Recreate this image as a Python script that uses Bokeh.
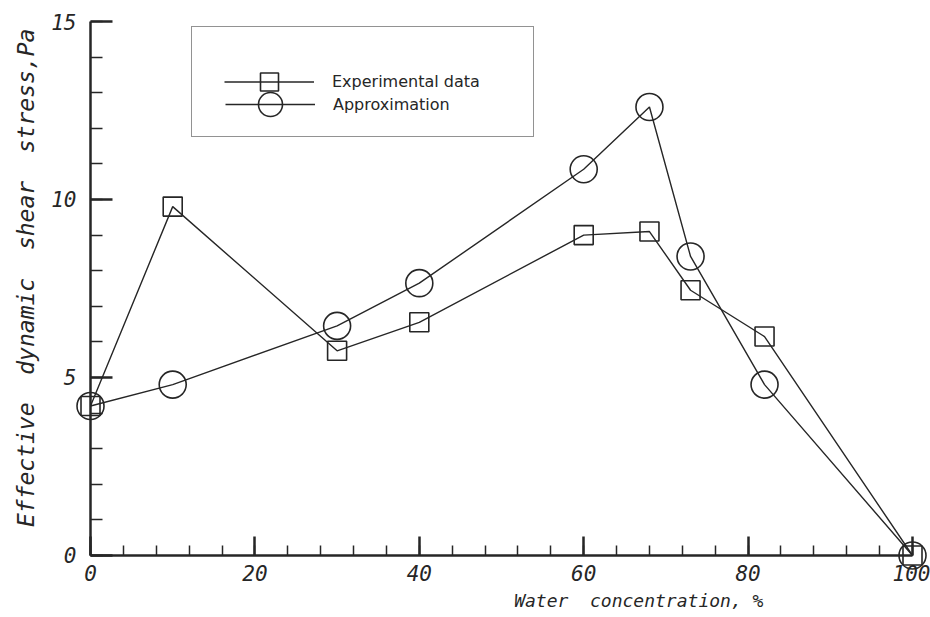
import math

from bokeh.embed import file_html
from bokeh.models import Label, Legend, LegendItem, LinearAxis, Range1d, SingleIntervalTicker
from bokeh.plotting import figure
from bokeh.resources import INLINE

# Water concentration, %
water = [0, 10, 30, 40, 60, 68, 73, 82, 100]
# Effective dynamic shear stress, Pa
experimental = [4.2, 9.8, 5.75, 6.55, 9.0, 9.1, 7.45, 6.15, 0.0]
approximation = [4.2, 4.8, 6.45, 7.65, 10.85, 12.6, 8.4, 4.8, 0.0]

x_ticks_major = 20
y_ticks_major = 5

INK = "#262626"
MONO = "DejaVu Sans Mono"
GAP = "\u00a0 "  # wide word gap, kept by the SVG text

# the frame covers the whole canvas; the axes are pinned to the origin inside it
p = figure(
    width=930, height=617,
    output_backend="svg", toolbar_location=None,
    x_range=Range1d(-10.95, 102.19), y_range=Range1d(-1.742, 15.59),
    x_axis_type=None, y_axis_type=None,
    min_border=0,
)
p.outline_line_color = None
p.background_fill_color = "white"
p.border_fill_color = "white"

xaxis = LinearAxis(
    ticker=SingleIntervalTicker(interval=x_ticks_major, num_minor_ticks=5),
    fixed_location=0, bounds=(0, 100),
)
yaxis = LinearAxis(
    ticker=SingleIntervalTicker(interval=y_ticks_major, num_minor_ticks=5),
    fixed_location=0, bounds=(0, 15),
)
for ax, maj, mnr, standoff in ((xaxis, 19, 10, 10), (yaxis, 22, 12, 14)):
    ax.axis_line_color = INK
    ax.axis_line_width = 2.5
    ax.major_tick_in = maj
    ax.major_tick_out = 0
    ax.minor_tick_in = mnr
    ax.minor_tick_out = 0
    ax.major_tick_line_color = INK
    ax.major_tick_line_width = 2.5
    ax.minor_tick_line_color = INK
    ax.minor_tick_line_width = 1.5
    ax.major_label_text_font = MONO
    ax.major_label_text_font_style = "italic"
    ax.major_label_text_font_size = "21px"
    ax.major_label_text_color = INK
    ax.major_label_standoff = standoff
p.add_layout(xaxis, "below")
p.add_layout(yaxis, "left")

# series
l_exp = p.line(water, experimental, line_color=INK, line_width=1.4)
m_exp = p.scatter(water, experimental, marker="square", size=19,
                  fill_color=None, line_color=INK, line_width=1.6)
l_app = p.line(water, approximation, line_color=INK, line_width=1.4)
m_app = p.scatter(water, approximation, marker="circle", size=27,
                  fill_color=None, line_color=INK, line_width=1.6)

legend_style = dict(
    orientation="vertical", margin=0,
    glyph_width=90, label_standoff=18, label_height=18, label_width=169,
    label_text_font="DejaVu Sans", label_text_font_size="16px",
    label_text_color=INK,
)
# boxed legend holding the first entry
legend_exp = Legend(
    items=[LegendItem(label="Experimental data", renderers=[l_exp, m_exp])],
    location=(191, 480), glyph_height=45, padding=32,
    border_line_color=INK, border_line_width=1.6,
    background_fill_color="white", background_fill_alpha=1.0,
    **legend_style,
)
# second entry, set just below the first one inside the same box
legend_app = Legend(
    items=[LegendItem(label="Approximation", renderers=[l_app, m_app])],
    location=(225, 483), glyph_height=60,
    border_line_color=None, background_fill_alpha=0.0,
    **legend_style,
)
p.add_layout(legend_exp, "center")
p.add_layout(legend_app, "center")

p.add_layout(Label(
    x=66.7, y=-1.26, text=f"Water{GAP}concentration, %",
    text_font=MONO, text_font_style="italic", text_font_size="18px",
    text_color=INK, text_align="center", text_baseline="middle",
))
p.add_layout(Label(
    x=-7.9, y=7.8, text=f"Effective{GAP}dynamic{GAP}shear{GAP}stress,Pa",
    angle=math.pi / 2,
    text_font=MONO, text_font_style="italic", text_font_size="23px",
    text_color=INK, text_align="center", text_baseline="middle",
))

open("out.html", "w").write(file_html(p, INLINE))
